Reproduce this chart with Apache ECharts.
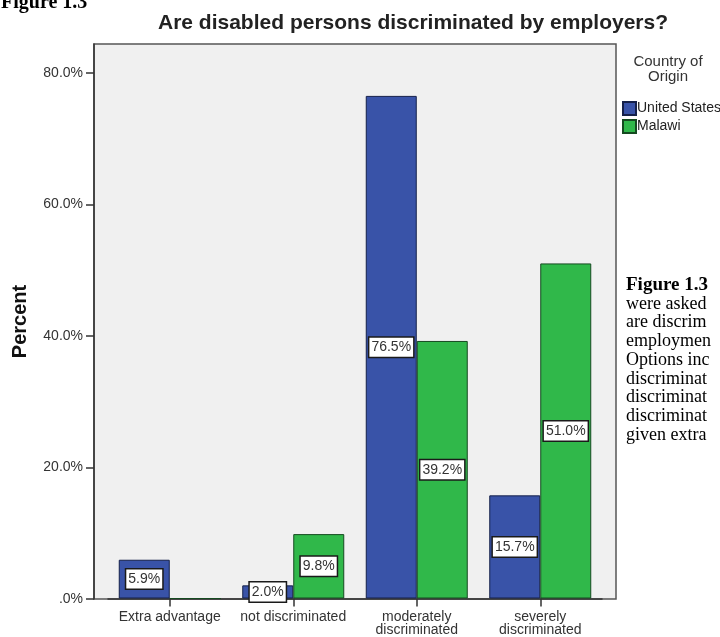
<!DOCTYPE html>
<html>
<head>
<meta charset="utf-8">
<script src="https://cdn.jsdelivr.net/npm/echarts@6/dist/echarts.min.js"></script>
<style>
html,body{margin:0;padding:0;background:#fff;}
#chart{width:720px;height:637px;}
</style>
</head>
<body>
<div id="chart"></div>
<script>
const categories = ['Extra advantage', 'not discriminated', 'moderately\ndiscriminated', 'severely\ndiscriminated'];
const usValues = [5.9, 2.0, 76.5, 15.7];
const malawiValues = [0, 9.8, 39.2, 51.0];
const yTicks = [0, 20, 40, 60, 80];
const seriesNames = ['United States', 'Malawi'];
const chartTitle = 'Are disabled persons discriminated by employers?';
const legendTitle = 'Country of\nOrigin';
const yAxisName = 'Percent';
const figureHeading = 'Figure 1.3';
const sideTextLines = ['were asked', 'are discrim', 'employmen', 'Options inc', 'discriminat', 'discriminat', 'discriminat', 'given extra'];

const yMax = 84.4;
const fmtPct = v => v === 0 ? '.0%' : v.toFixed(1) + '%';

function barData(arr) {
  return arr.map(v => ({ value: v, label: { show: v > 0 } }));
}

const barLabel = {
  position: 'inside',
  formatter: p => fmtPct(p.value),
  backgroundColor: '#ffffff',
  borderColor: '#1a1a1a',
  borderWidth: 1.5,
  padding: [3, 2, 2, 2],
  fontFamily: 'Liberation Sans, Arial, sans-serif',
  fontSize: 14,
  color: '#333'
};

const sideGraphics = [{
  type: 'text', x: 626, y: 276,
  style: { text: figureHeading, font: 'bold 19px "Liberation Serif", "Times New Roman", serif', fill: '#000' }
}].concat(sideTextLines.map((t, i) => ({
  type: 'text', x: 626, y: 295 + i * 18.7,
  style: { text: t, font: '18px "Liberation Serif", "Times New Roman", serif', fill: '#000' }
})));

const chart = echarts.init(document.getElementById('chart'));
chart.setOption({
  backgroundColor: '#ffffff',
  animation: false,
  title: {
    text: chartTitle,
    left: 153, top: 8,
    textStyle: { fontFamily: 'Liberation Sans, Arial, sans-serif', fontSize: 21, fontWeight: 'bold', color: '#222' }
  },
  legend: {
    data: seriesNames,
    orient: 'vertical',
    left: 617, top: 96,
    itemWidth: 13, itemHeight: 13, itemGap: 3,
    icon: 'rect',
    textStyle: { fontFamily: 'Liberation Sans, Arial, sans-serif', fontSize: 14, color: '#222', padding: [0, 0, 0, -4] }
  },
  grid: [
    { left: 94, top: 44, width: 522, height: 555, show: true, backgroundColor: '#f0f0f0', borderColor: '#555', borderWidth: 1.5 },
    { left: 108, top: 44, width: 494, height: 555 }
  ],
  xAxis: [
    { type: 'value', gridIndex: 0, show: false, min: 0, max: 1 },
    {
      type: 'category', gridIndex: 1, data: categories,
      axisLine: { show: true, lineStyle: { color: '#333', width: 1.5 } },
      axisTick: { show: true, alignWithLabel: true, length: 8, lineStyle: { color: '#333', width: 1.5 } },
      axisLabel: { fontFamily: 'Liberation Sans, Arial, sans-serif', fontSize: 14, color: '#333', lineHeight: 13, margin: 12, interval: 0 }
    }
  ],
  yAxis: [
    {
      type: 'value', gridIndex: 0, min: 0, max: yMax,
      name: yAxisName, nameLocation: 'middle', nameGap: 64, nameRotate: 90,
      nameTextStyle: { fontFamily: 'Liberation Sans, Arial, sans-serif', fontSize: 20, fontWeight: 'bold', color: '#111' },
      axisLine: { show: true, lineStyle: { color: '#333', width: 1.5 } },
      axisTick: { show: true, length: 8, customValues: yTicks, lineStyle: { color: '#333', width: 1.5 } },
      axisLabel: { customValues: yTicks, formatter: fmtPct, fontFamily: 'Liberation Sans, Arial, sans-serif', fontSize: 14, color: '#333', margin: 11 },
      splitLine: { show: false }
    },
    { type: 'value', gridIndex: 1, min: 0, max: yMax, show: false, splitLine: { show: false } }
  ],
  series: [
    {
      name: seriesNames[0], type: 'bar', xAxisIndex: 1, yAxisIndex: 1,
      data: barData(usValues), barWidth: 51, barGap: '0%',
      itemStyle: { color: '#3953a8', borderColor: '#15204a', borderWidth: 1 },
      label: barLabel
    },
    {
      name: seriesNames[1], type: 'bar', xAxisIndex: 1, yAxisIndex: 1,
      data: barData(malawiValues), barWidth: 51, barGap: '0%',
      itemStyle: { color: '#30b84a', borderColor: '#154a20', borderWidth: 1 },
      label: barLabel
    }
  ],
  graphic: [
    {
      type: 'text', x: 1, y: -7,
      style: { text: figureHeading, font: 'bold 20px "Liberation Serif", "Times New Roman", serif', fill: '#000' }
    },
    {
      type: 'text', x: 668, y: 54,
      style: { text: legendTitle, font: '15px "Liberation Sans", Arial, sans-serif', fill: '#333', align: 'center', lineHeight: 15 }
    }
  ].concat(sideGraphics)
});
</script>
</body>
</html>
